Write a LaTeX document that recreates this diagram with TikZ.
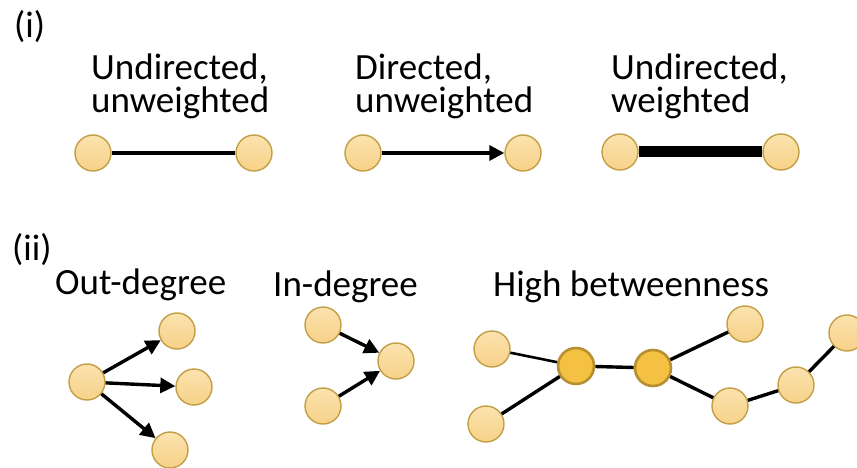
\documentclass[tikz,border=0pt]{standalone}
\usepackage{fontspec}
\setmainfont{Carlito}
\usetikzlibrary{arrows.meta}

\definecolor{vtxtop}{HTML}{FBE2AE}
\definecolor{vtxbot}{HTML}{F7D289}
\definecolor{vtxline}{HTML}{C29F45}
\definecolor{hubfill}{HTML}{F4C142}
\definecolor{hubline}{HTML}{B68F30}

\begin{document}
\begin{tikzpicture}[x=1pt,y=-1pt]
   \tikzset{vtx/.style={circle,draw=vtxline,line width=1.4pt,top color=vtxtop,bottom color=vtxbot,minimum size=36pt,inner sep=0pt},
            hub/.style={circle,draw=hubline,line width=2.6pt,fill=hubfill,minimum size=36pt,inner sep=0pt},
            lbl/.style={anchor=base west,inner sep=0pt,align=left,font=\fontsize{37}{33}\selectfont},
            every edge/.style={draw,line width=3.4pt},
            arr/.style={-{Triangle[length=15pt,width=15pt]}}};

\useasboundingbox (0,0) rectangle (857,468);

% (i) edge types
\node[lbl] (t1) at (14,38) {(i)};
\node[lbl] (t2) at (91,113) {Undirected,\\unweighted};
\node[lbl] (t3) at (355,113) {Directed,\\unweighted};
\node[lbl] (t4) at (611,113) {Undirected,\\weighted};

\node[vtx] (u1) at (93,153) {};
\node[vtx] (u2) at (254,153) {} edge (u1);

\node[vtx] (d1) at (363,153) {};
\node[vtx] (d2) at (523,153) {};
\draw (d1) edge[arr] (d2);

\node[vtx] (w1) at (620,152) {};
\node[vtx] (w2) at (781,152) {} edge[line width=11pt] (w1);

% (ii) centrality
\node[lbl] (t5) at (12,260) {(ii)};
\node[lbl] (t6) at (55,294) {Out-degree};
\node[lbl] (t7) at (273,296) {In-degree};
\node[lbl] (t8) at (493,296) {High betweenness};

\node[vtx] (o0) at (87,382) {};
\node[vtx] (o1) at (177,331) {};
\node[vtx] (o2) at (194,387) {};
\node[vtx] (o3) at (170,450) {};
\draw (o0) edge[arr] (o1) edge[arr] (o2) edge[arr] (o3);

\node[vtx] (i1) at (323,325) {};
\node[vtx] (i2) at (323,406) {};
\node[vtx] (i0) at (396,361) {};
\draw (i1) edge[arr] (i0) (i2) edge[arr] (i0);

\node[vtx] (b1) at (492,349) {};
\node[vtx] (b2) at (486,424) {};
\node[hub] (h1) at (576,366) {} edge[line width=2.6pt] (b1) edge (b2);
\node[hub] (h2) at (653,368) {} edge (h1);
\node[vtx] (b3) at (745,324) {} edge (h2);
\node[vtx] (b4) at (730,406) {} edge (h2);
\node[vtx] (b5) at (796,385) {} edge (b4);
\node[vtx] (b6) at (847,333) {} edge (b5);

\end{tikzpicture}
\end{document}
